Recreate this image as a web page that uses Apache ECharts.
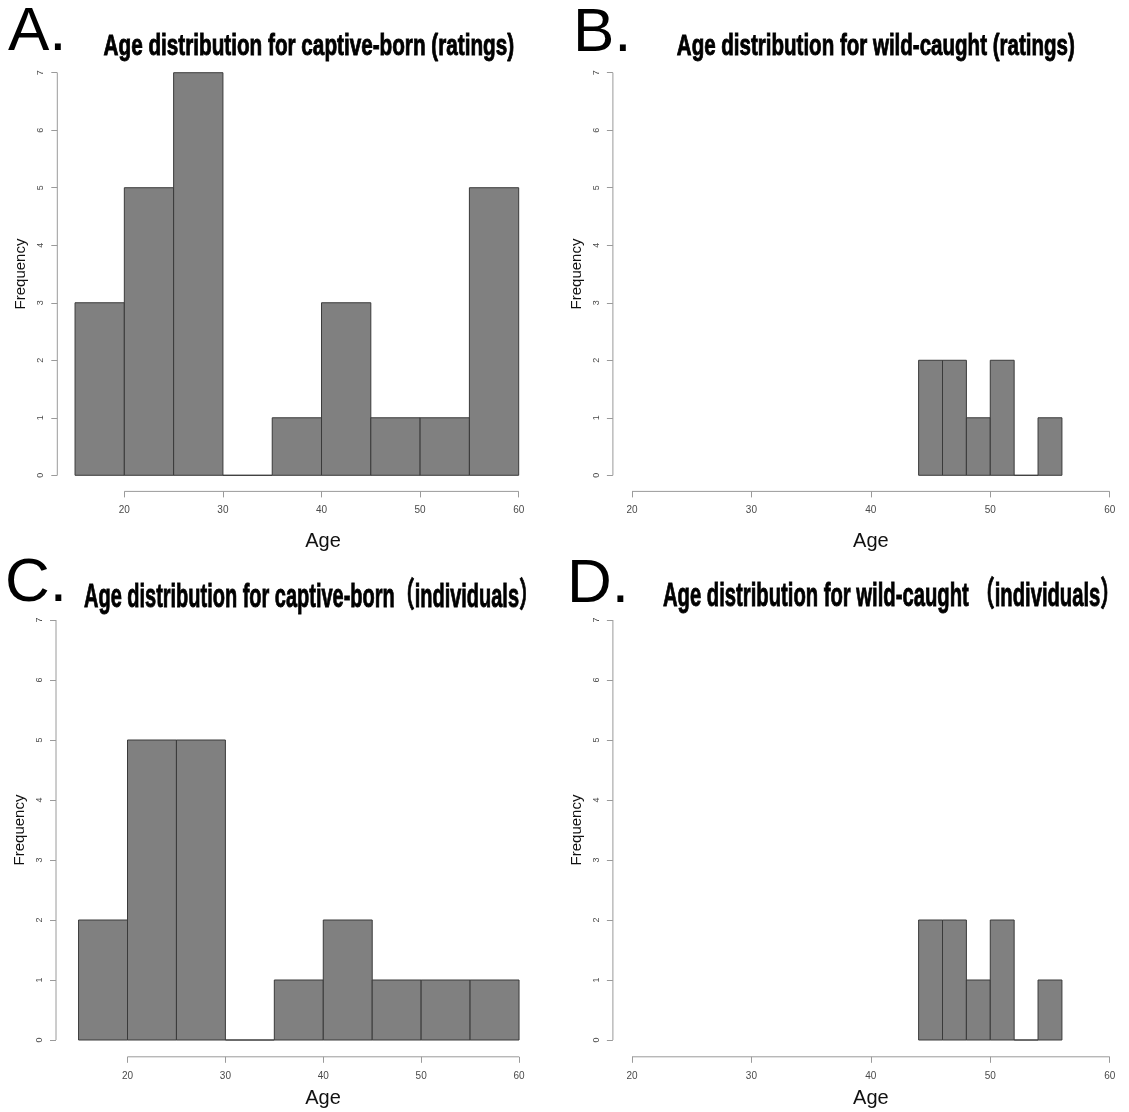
<!DOCTYPE html>
<html>
<head>
<meta charset="utf-8">
<title>Age distribution</title>
<script src="https://cdn.jsdelivr.net/npm/echarts@6/dist/echarts.min.js"></script>
<style>
  html, body { margin: 0; padding: 0; background: #fff; }
  #chart { width: 1129px; height: 1112px; }
</style>
</head>
<body>
<div id="chart"></div>
<script>
// Histogram bin edges and counts
const captiveEdges = [15, 20, 25, 30, 35, 40, 45, 50, 55, 60];
const captiveRatings = [3, 5, 7, 0, 1, 3, 1, 1, 5];
const captiveIndividuals = [2, 5, 5, 0, 1, 2, 1, 1, 1];
const wildEdges = [44, 46, 48, 50, 52, 54, 56];
const wildRatings = [2, 2, 1, 2, 0, 1];
const wildIndividuals = [2, 2, 1, 2, 0, 1];

// Axis tick labels
const xTicks = [20, 30, 40, 50, 60];
const yTicks = [0, 1, 2, 3, 4, 5, 6, 7];

const panelLetters = ['A.', 'B.', 'C.', 'D.'];
const panelTitles = [
  'Age distribution for captive-born (ratings)',
  'Age distribution for wild-caught (ratings)',
  'Age distribution for captive-born（individuals）',
  'Age distribution for wild-caught （individuals）'
];

const FONT = "'Liberation Sans', Arial, Helvetica, 'Noto Sans CJK SC', sans-serif";

// Panel layout: plot box in pixels plus the value extent it covers
const panels = [
  { edges: captiveEdges, counts: captiveRatings,
    grid: { left: 57.3, top: 56.6, width: 531.4, height: 434.8 }, x: [13.2, 67.1], ageGap: 40,
    title: { x: 103.6, y: 46.5, w: 410.5, size: 29 }, letter: { x: 8, y: 33 } },
  { edges: wildEdges, counts: wildRatings,
    grid: { left: 612.9, top: 56.6, width: 515.9, height: 434.8 }, x: [18.4, 61.6], ageGap: 40,
    title: { x: 676.8, y: 46.5, w: 398, size: 29 }, letter: { x: 573, y: 34 } },
  { edges: captiveEdges, counts: captiveIndividuals,
    grid: { left: 56, top: 603.2, width: 534, height: 453.6 }, x: [12.695, 67.25], ageGap: 32,
    title: { x: 84, y: 598, w: 455, size: 34 }, letter: { x: 5, y: 584 } },
  { edges: wildEdges, counts: wildIndividuals,
    grid: { left: 612.9, top: 603.2, width: 515.9, height: 453.6 }, x: [18.4, 61.6], ageGap: 32,
    title: { x: 663, y: 597, w: 457.6, size: 34 }, letter: { x: 567, y: 585 } }
];
const yExtent = [-0.28, 7.28];

// Measure text so condensed titles can be squeezed to their width
const measureCtx = document.createElement('canvas').getContext('2d');
function textWidth(str, font) {
  measureCtx.font = font;
  return measureCtx.measureText(str).width;
}

const grids = [], xAxes = [], yAxes = [], series = [], graphics = [];

panels.forEach((p, i) => {
  grids.push(Object.assign({ containLabel: false }, p.grid));

  xAxes.push({
    type: 'value', gridIndex: i, min: p.x[0], max: p.x[1],
    axisLine: { show: false, onZero: false },
    splitLine: { show: false },
    axisTick: { show: true, customValues: xTicks, length: 6, lineStyle: { color: '#9a9a9a', width: 1 } },
    axisLabel: { customValues: xTicks, fontSize: 10, color: '#4a4a4a', margin: 14, fontFamily: FONT },
    name: 'Age', nameLocation: 'middle', nameGap: p.ageGap,
    nameTextStyle: { fontSize: 20, color: '#111', fontFamily: FONT }
  });

  yAxes.push({
    type: 'value', gridIndex: i, min: yExtent[0], max: yExtent[1],
    axisLine: { show: false, onZero: false },
    splitLine: { show: false },
    axisTick: { show: true, customValues: yTicks, length: 6, lineStyle: { color: '#9a9a9a', width: 1 } },
    axisLabel: { customValues: yTicks, fontSize: 9, color: '#4a4a4a', rotate: 90, margin: 12, fontFamily: FONT },
    name: 'Frequency', nameLocation: 'middle', nameGap: 29,
    nameTextStyle: { fontSize: 15, color: '#111', fontFamily: FONT }
  });

  // Histogram bars, one rect per bin
  const bins = p.counts.map((c, k) => [p.edges[k], p.edges[k + 1], c]);
  series.push({
    type: 'custom', xAxisIndex: i, yAxisIndex: i, data: bins,
    renderItem: function (params, api) {
      const base = api.coord([api.value(0), 0]);
      const top = api.coord([api.value(1), api.value(2)]);
      return {
        type: 'rect',
        shape: { x: base[0], y: top[1], width: top[0] - base[0], height: base[1] - top[1] },
        style: { fill: '#808080', stroke: '#3a3a3a', lineWidth: 1 }
      };
    }
  });

  // Axis lines spanning only the tick range
  series.push({
    type: 'custom', xAxisIndex: i, yAxisIndex: i, data: [[0]], silent: true,
    renderItem: function (params, api) {
      const xa = api.coord([xTicks[0], yExtent[0]]);
      const xb = api.coord([xTicks[xTicks.length - 1], yExtent[0]]);
      const ya = api.coord([p.x[0], yTicks[0]]);
      const yb = api.coord([p.x[0], yTicks[yTicks.length - 1]]);
      const st = { stroke: '#9a9a9a', lineWidth: 1 };
      return {
        type: 'group',
        children: [
          { type: 'line', shape: { x1: xa[0], y1: xa[1], x2: xb[0], y2: xb[1] }, style: st },
          { type: 'line', shape: { x1: ya[0], y1: ya[1], x2: yb[0], y2: yb[1] }, style: st }
        ]
      };
    }
  });

  // Panel letter
  graphics.push({
    type: 'text', x: p.letter.x, y: p.letter.y,
    style: { text: panelLetters[i], fontSize: 62, fontFamily: FONT, fill: '#000',
             align: 'left', verticalAlign: 'middle' }
  });

  // Condensed heavy title
  const tFont = 'bold ' + p.title.size + 'px ' + FONT;
  const sx = p.title.w / textWidth(panelTitles[i], tFont);
  graphics.push({
    type: 'text', x: p.title.x, y: p.title.y, scaleX: sx, scaleY: 1,
    style: { text: panelTitles[i], fontSize: p.title.size, fontWeight: 'bold', fontFamily: FONT,
             fill: '#000', stroke: '#000', lineWidth: 0.9,
             align: 'left', verticalAlign: 'middle' }
  });
});

const chart = echarts.init(document.getElementById('chart'), null, { renderer: 'canvas' });
chart.setOption({
  animation: false,
  backgroundColor: '#fff',
  grid: grids,
  xAxis: xAxes,
  yAxis: yAxes,
  series: series,
  graphic: graphics
});
</script>
</body>
</html>
